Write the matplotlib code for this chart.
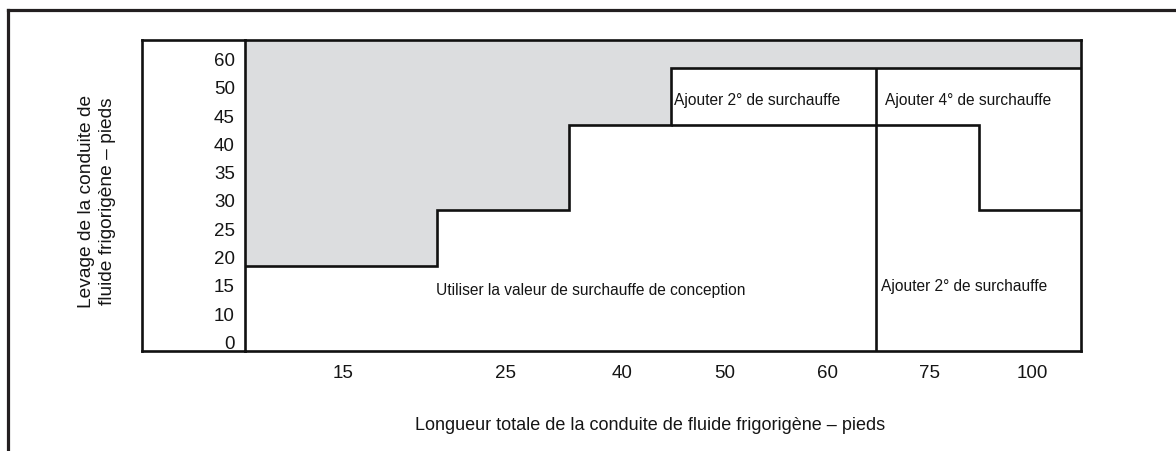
import numpy as np
import matplotlib
matplotlib.use("Agg")
import matplotlib.pyplot as plt
from matplotlib.lines import Line2D
from matplotlib.transforms import ScaledTranslation

plt.rcParams["font.family"] = ["Liberation Sans", "DejaVu Sans"]

# Total refrigerant line length columns (ft)
length_labels = ["15", "25", "40", "50", "60", "75", "100"]
# Relative column widths of the table
col_widths = [1.87, 1.29, 1.0, 1.0, 1.0, 1.0, 1.0]
# Refrigerant line lift rows (ft)
lift_labels = ["0", "10", "15", "20", "25", "30", "35", "40", "45", "50", "60"]

# Highest permitted lift per length column (above it: not permitted, shaded)
max_lift = ["15", "25", "40", "50", "50", "50", "50"]
# Top of each superheat zone per length column (None: zone absent)
design_top = ["15", "25", "40", "40", "40", None, None]
add2_top = [None, None, None, "50", "50", "40", "25"]
add4_top = [None, None, None, None, None, "50", "50"]

zone_texts = {
    "design": "Utiliser la valeur de surchauffe de conception",
    "add2_mid": "Ajouter 2° de surchauffe",
    "add4": "Ajouter 4° de surchauffe",
    "add2_low": "Ajouter 2° de surchauffe",
}
x_title = "Longueur totale de la conduite de fluide frigorigène – pieds"
y_title = "Levage de la conduite de\nfluide frigorigène – pieds"

INK = "#111111"
TXT = "#151515"
FRAME = "#231f20"
SHADE = "#dcdddf"
LW = 1.9

W, H = 1176, 452
fig = plt.figure(figsize=(W / 100, H / 100), dpi=100)
ax = fig.add_axes([245 / W, 1 - 352 / H, (1081 - 245) / W, (352 - 41) / H])

edges = np.concatenate([[0.0], np.cumsum(col_widths)])
centers = (edges[:-1] + edges[1:]) / 2
row_of = {lab: i for i, lab in enumerate(lift_labels)}
bottom, top = -0.5, len(lift_labels) - 0.5


def row_top(lab):
    return bottom if lab is None else row_of[lab] + 0.5


max_pos = np.array([row_top(v) for v in max_lift])

# Shaded region above the permitted lift
ax.stairs(np.full(len(max_pos), top), edges, baseline=max_pos, fill=True,
          color=SHADE, lw=0, zorder=1)
# Permitted lift boundary
ax.stairs(max_pos, edges, baseline=None, color=INK, lw=LW, zorder=3)


def draw_zone_top(tops):
    """Draw a zone's upper boundary where it lies below the permitted lift."""
    pos = np.array([row_top(v) for v in tops])
    inside = np.array([v is not None for v in tops]) & (pos < max_pos)
    i = 0
    while i < len(tops):
        if inside[i]:
            j = i
            while j + 1 < len(tops) and inside[j + 1]:
                j += 1
            ax.stairs(pos[i:j + 1], edges[i:j + 2], baseline=None,
                      color=INK, lw=LW, zorder=3)
            i = j + 1
        else:
            i += 1


draw_zone_top(design_top)
draw_zone_top(add2_top)

# Vertical boundary where the design-value zone ends
for i in range(1, len(design_top)):
    if design_top[i - 1] is not None and design_top[i] is None:
        ax.plot([edges[i], edges[i]], [bottom, max_pos[i]], color=INK,
                lw=LW, zorder=3, solid_capstyle="butt")

ax.set_xlim(edges[0], edges[-1])
ax.set_ylim(bottom, top)

# Zone labels
ax.text(3.37, 1.69, zone_texts["design"], ha="center", va="center",
        fontsize=11.2, color=TXT, zorder=4)
ax.text(edges[3] + 0.03, 8.38, zone_texts["add2_mid"], ha="left",
        va="center", fontsize=11.2, color=TXT, zorder=4)
ax.text(edges[5] + 0.09, 8.38, zone_texts["add4"], ha="left",
        va="center", fontsize=11.2, color=TXT, zorder=4)
ax.text(edges[5] + 0.05, 1.80, zone_texts["add2_low"], ha="left",
        va="center", fontsize=11.2, color=TXT, zorder=4)

# Ticks
ax.set_xticks(centers, length_labels)
ax.set_yticks(np.arange(len(lift_labels)), lift_labels)
ax.tick_params(axis="both", length=0, labelsize=13.5, colors=TXT)
ax.tick_params(axis="y", pad=7.3)
ax.tick_params(axis="x", pad=9.5)
yshift = ScaledTranslation(0, -4.5 / 100, fig.dpi_scale_trans)
for lab in ax.get_yticklabels():
    lab.set_transform(lab.get_transform() + yshift)
xshift = ScaledTranslation(2.5 / 100, 0, fig.dpi_scale_trans)
for lab in ax.get_xticklabels():
    lab.set_transform(lab.get_transform() + xshift)

for sp in ax.spines.values():
    sp.set_linewidth(LW)
    sp.set_color(INK)
    sp.set_zorder(5)

# Extension of the table box around the lift-label column
x0 = (142 - 245) / (1081 - 245)
for xs, ys in [([x0, 0], [1, 1]), ([x0, 0], [0, 0]), ([x0, x0], [0, 1])]:
    ax.add_line(Line2D(xs, ys, transform=ax.transAxes, color=INK, lw=LW,
                       clip_on=False, solid_capstyle="projecting", zorder=5))

# Axis titles
fig.text(650 / W, 1 - 426 / H, x_title, ha="center", va="center",
         fontsize=13, color=TXT)
fig.text(97 / W, 1 - 201 / H, y_title, ha="center", va="center",
         rotation=90, fontsize=13.8, color=TXT, linespacing=1.3,
         multialignment="center")

# Outer frame (left and top edges)
fig.add_artist(Line2D([7.5 / W, 7.5 / W], [0, 1 - 11 / H],
                      transform=fig.transFigure, color=FRAME, lw=2.3,
                      solid_capstyle="projecting"))
fig.add_artist(Line2D([7.5 / W, 1.0], [1 - 11 / H, 1 - 11 / H],
                      transform=fig.transFigure, color=FRAME, lw=2.3,
                      solid_capstyle="projecting"))

fig.savefig("out.png", dpi=100)
